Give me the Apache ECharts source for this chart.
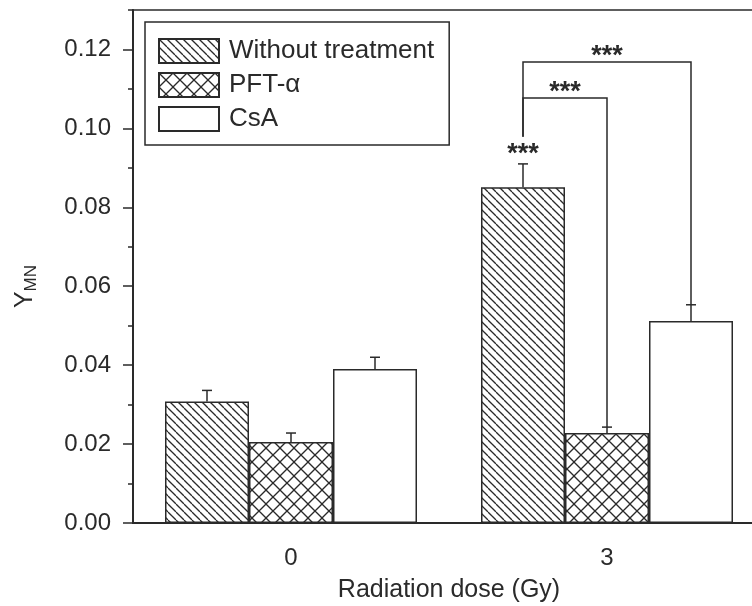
<!DOCTYPE html>
<html lang="en">
<head>
<meta charset="UTF-8" />
<title>YMN by radiation dose</title>
<style>
  html, body { margin: 0; padding: 0; background: #fff; }
  #main { width: 752px; height: 606px; }
</style>
</head>
<body>
<div id="main"></div>
<script src="https://cdn.jsdelivr.net/npm/echarts@6/dist/echarts.min.js"></script>
<script>
const doses = ['0', '3']
const treatments = ['Without treatment', 'PFT-α', 'CsA']
const withoutTreatment = [0.0308, 0.0851]
const pft = [0.0205, 0.0228]
const csa = [0.039, 0.0512]
const withoutErr = [0.0028, 0.0059]
const pftErr = [0.0023, 0.0015]
const csaErr = [0.003, 0.0041]
const majorTicks = [0, 0.02, 0.04, 0.06, 0.08, 0.1, 0.12]
const minorTicks = [0.01, 0.03, 0.05, 0.07, 0.09, 0.11, 0.13]
// brackets at dose "3": from the untreated bar up to level, across and down to bar `to`
const brackets = [
  { dose: 1, to: 2, from: 0.0979, level: 0.1168, label: '***' },
  { dose: 1, to: 1, from: 0.0979, level: 0.1077, label: '***' }
]
const starsAbove = [{ dose: 1, slot: 0, value: 0.0944, label: '***' }]

const values = [withoutTreatment, pft, csa]
const errs = [withoutErr, pftErr, csaErr]

const FONT = 'Liberation Sans, Arial, Helvetica, sans-serif'
const STAR_FONT = 'bold 27px ' + FONT
const INK = '#2a2a2a'
const BAR_W = 84

function hatch(size, dirs) {
  const c = document.createElement('canvas')
  c.width = size
  c.height = size
  const ctx = c.getContext('2d')
  ctx.fillStyle = '#fff'
  ctx.fillRect(0, 0, size, size)
  ctx.strokeStyle = INK
  ctx.lineWidth = 1.3
  for (const d of dirs) {
    for (const k of [-size, 0, size]) {
      ctx.beginPath()
      if (d === 'down') {
        ctx.moveTo(k, 0)
        ctx.lineTo(k + size, size)
      } else {
        ctx.moveTo(k, size)
        ctx.lineTo(k + size, 0)
      }
      ctx.stroke()
    }
  }
  return { image: c, repeat: 'repeat' }
}

const fills = [hatch(8, ['down']), hatch(14, ['down', 'up']), '#fff']

const chart = echarts.init(document.getElementById('main'))

const barSeries = treatments.map((name, i) => ({
  name,
  type: 'bar',
  data: values[i],
  barWidth: BAR_W,
  barGap: '0%',
  itemStyle: { color: fills[i], borderColor: INK, borderWidth: 1.5 },
  z: 2
}))

const errSeries = treatments.map((name, i) => ({
  name: name + ' error',
  type: 'custom',
  z: 4,
  silent: true,
  data: doses.map((d, j) => [j, values[i][j], values[i][j] + errs[i][j]]),
  renderItem(params, api) {
    const off = (i - 1) * BAR_W
    const p0 = api.coord([api.value(0), api.value(1)])
    const p1 = api.coord([api.value(0), api.value(2)])
    const x = p0[0] + off
    return {
      type: 'group',
      children: [
        { type: 'line', shape: { x1: x, y1: p0[1], x2: x, y2: p1[1] }, style: { stroke: INK, lineWidth: 1.5 } },
        { type: 'line', shape: { x1: x - 5, y1: p1[1], x2: x + 5, y2: p1[1] }, style: { stroke: INK, lineWidth: 1.5 } }
      ]
    }
  }
}))

const bracketSeries = {
  name: 'brackets',
  type: 'custom',
  z: 5,
  silent: true,
  data: brackets.map(b => [b.dose, b.level]),
  renderItem(params, api) {
    const b = brackets[params.dataIndex]
    const end = values[b.to][b.dose] + errs[b.to][b.dose]
    const a = api.coord([b.dose, b.from])
    const l = api.coord([b.dose, b.level])
    const e = api.coord([b.dose, end])
    const xa = a[0] - BAR_W
    const xb = a[0] + (b.to - 1) * BAR_W
    return {
      type: 'group',
      children: [
        {
          type: 'polyline',
          shape: { points: [[xa, a[1]], [xa, l[1]], [xb, l[1]], [xb, e[1]]] },
          style: { stroke: INK, lineWidth: 1.5, fill: null }
        },
        {
          type: 'text',
          x: (xa + xb) / 2,
          y: l[1] + 8,
          style: { text: b.label, font: STAR_FONT, fill: INK, align: 'center', verticalAlign: 'bottom' }
        }
      ]
    }
  }
}

const starSeries = {
  name: 'stars',
  type: 'custom',
  z: 5,
  silent: true,
  data: starsAbove.map(s => [s.dose, s.value]),
  renderItem(params, api) {
    const s = starsAbove[params.dataIndex]
    const p = api.coord([s.dose, s.value])
    return {
      type: 'text',
      x: p[0] + (s.slot - 1) * BAR_W,
      y: p[1] + 4,
      style: { text: s.label, font: STAR_FONT, fill: INK, align: 'center', verticalAlign: 'middle' }
    }
  }
}

chart.setOption({
  animation: false,
  backgroundColor: '#fff',
  grid: {
    left: 133,
    width: 632,
    top: 10,
    bottom: 83,
    outerBoundsMode: 'none',
    containLabel: false,
    show: true,
    borderColor: INK,
    borderWidth: 1.5
  },
  legend: {
    data: treatments,
    orient: 'vertical',
    left: 145,
    top: 22,
    padding: [16, 15, 13, 13],
    itemWidth: 60,
    itemHeight: 24,
    itemGap: 8,
    icon: 'rect',
    borderColor: INK,
    borderWidth: 1.5,
    backgroundColor: '#fff',
    selectedMode: false,
    textStyle: { fontSize: 26, fontFamily: FONT, color: INK, padding: [0, 0, 0, 5] }
  },
  xAxis: {
    type: 'category',
    data: doses,
    name: 'Radiation dose (Gy)',
    nameLocation: 'middle',
    nameGap: 55,
    nameTextStyle: { fontSize: 25, fontFamily: FONT, color: INK },
    axisLine: { lineStyle: { color: INK, width: 2 } },
    axisTick: { show: false },
    axisLabel: { fontSize: 24, fontFamily: FONT, color: INK, margin: 23 },
    splitLine: { show: false }
  },
  yAxis: [
    {
      type: 'value',
      min: 0,
      max: 0.13,
      name: '{a|Y}{b|MN}',
      nameLocation: 'middle',
      nameGap: 93,
      nameTextStyle: {
        color: INK,
        padding: [0, 40, 0, 0],
        rich: {
          a: { fontSize: 25, fontFamily: FONT, color: INK },
          b: { fontSize: 17, fontFamily: FONT, color: INK, padding: [12, 0, 0, 0] }
        }
      },
      axisLine: { show: true, lineStyle: { color: INK, width: 2 } },
      axisTick: { show: true, length: 10, customValues: majorTicks, lineStyle: { color: INK, width: 1.5 } },
      axisLabel: {
        customValues: majorTicks,
        fontSize: 24,
        fontFamily: FONT,
        color: INK,
        margin: 22,
        formatter: v => v.toFixed(2)
      },
      splitLine: { show: false }
    },
    {
      type: 'value',
      min: 0,
      max: 0.13,
      position: 'left',
      axisLine: { show: false },
      axisTick: { show: true, length: 5, customValues: minorTicks, lineStyle: { color: INK, width: 1.5 } },
      axisLabel: { show: false },
      splitLine: { show: false }
    }
  ],
  series: [...barSeries, ...errSeries, bracketSeries, starSeries]
})
</script>
</body>
</html>
